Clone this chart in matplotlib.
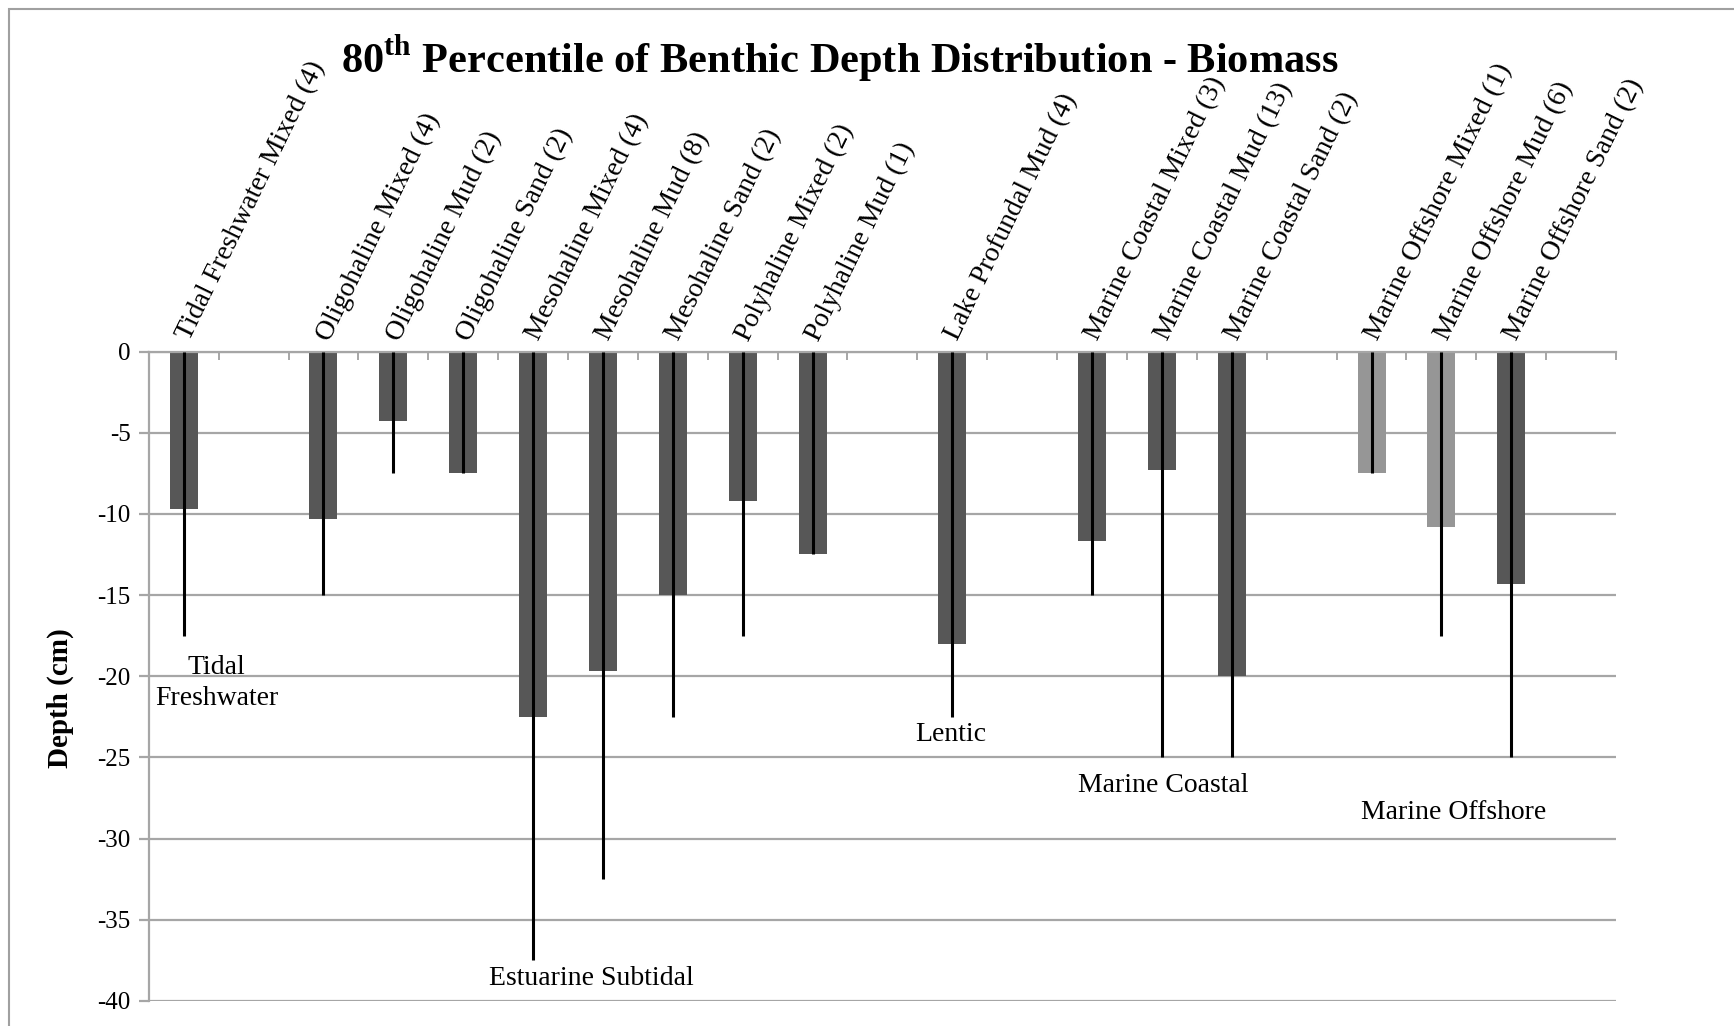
"""
80th percentile of benthic depth distribution (biomass) - bar chart with max-depth lines.
"""
import numpy as np
import matplotlib
matplotlib.use("Agg")
import matplotlib.pyplot as plt
from matplotlib.patches import Rectangle

# ── Data ──────────────────────────────────────────────────────────────────
nan = np.nan
CATEGORIES = [
    "Tidal Freshwater Mixed (4)", "",
    "Oligohaline Mixed (4)", "Oligohaline Mud (2)", "Oligohaline Sand (2)",
    "Mesohaline Mixed (4)", "Mesohaline Mud (8)", "Mesohaline Sand (2)",
    "Polyhaline Mixed (2)", "Polyhaline Mud (1)", "",
    "Lake Profundal Mud (4)", "",
    "Marine Coastal Mixed (3)", "Marine Coastal Mud (13)", "Marine Coastal Sand (2)", "",
    "Marine Offshore Mixed (1)", "Marine Offshore Mud (6)", "Marine Offshore Sand (2)", "",
]
DEPTH_80 = [-9.7, nan, -10.3, -4.3, -7.5, -22.5, -19.7, -15.0, -9.2, -12.5, nan,
            -18.0, nan, -11.7, -7.3, -20.0, nan, -7.5, -10.8, -14.3, nan]
DEPTH_MAX = [-17.5, nan, -15.0, -7.5, -7.5, -37.5, -32.5, -22.5, -17.5, -12.5, nan,
             -22.5, nan, -15.0, -25.0, -25.0, nan, -7.5, -17.5, -25.0, nan]
LIGHT = [False] * 17 + [True, True, False, False]

GROUPS = ["Tidal\nFreshwater", "Estuarine Subtidal", "Lentic",
          "Marine Coastal", "Marine Offshore"]

# ── Style ─────────────────────────────────────────────────────────────────
DARK_BAR = "#575757"
LIGHT_BAR = "#969696"
GRID = "#a6a6a6"
SERIF = ["Liberation Serif", "DejaVu Serif"]

plt.rcParams["font.family"] = SERIF
plt.rcParams["axes.unicode_minus"] = False
plt.rcParams["mathtext.fontset"] = "custom"
plt.rcParams["mathtext.rm"] = "Liberation Serif:bold"
plt.rcParams["mathtext.bf"] = "Liberation Serif:bold"

fig = plt.figure(figsize=(17.34, 10.26), dpi=100)
fig.patch.set_facecolor("white")
ax = fig.add_axes([0.0858, 0.0244, 0.932 - 0.0858, 0.6574 - 0.0244])

# outer chart-area border (runs off right/bottom edges)
fig.patches.append(Rectangle((0.005, -0.2), 1.5, 1.2 - 0.009, transform=fig.transFigure,
                             fill=False, edgecolor="#a0a0a0", linewidth=1.5))

x = np.arange(len(CATEGORIES))
colors = [LIGHT_BAR if l else DARK_BAR for l in LIGHT]
ax.bar(x, DEPTH_80, width=0.4, color=colors, zorder=2)
ax.vlines(x, 0, DEPTH_MAX, color="black", linewidth=2.2, zorder=3)

ax.set_xlim(-0.5, len(CATEGORIES) - 0.5)
ax.set_ylim(-40, 0)
ax.set_yticks(np.arange(-40, 1, 5))
ax.yaxis.grid(True, color=GRID, linewidth=1.6, zorder=0)
ax.set_axisbelow(True)

for side in ["right", "bottom"]:
    ax.spines[side].set_visible(False)
ax.spines["top"].set_color(GRID)
ax.spines["top"].set_linewidth(1.6)
ax.spines["left"].set_color(GRID)
ax.spines["left"].set_linewidth(1.6)

ax.tick_params(axis="y", colors=GRID, labelcolor="black", labelsize=18,
               length=7, width=1.6, pad=6)

# category labels on top, boundary ticks as minor
ax.xaxis.tick_top()
ax.set_xticks(x)
ax.set_xticklabels(CATEGORIES)
ax.set_xticks(np.arange(-0.5, len(CATEGORIES), 1), minor=True)
ax.tick_params(axis="x", which="major", length=0, pad=9, labelsize=20)
ax.tick_params(axis="x", which="minor", direction="in", length=6, width=1.4,
               colors=GRID)
for lbl in ax.get_xticklabels():
    lbl.set_rotation(64)
    lbl.set_rotation_mode("anchor")
    lbl.set_ha("left")
    lbl.set_va("center")

# group annotations
GROUP_POS = [(0.47, -20.4), (5.84, -38.6), (10.98, -23.6), (14.02, -26.7), (18.18, -28.4)]
for name, (gx, gy) in zip(GROUPS, GROUP_POS):
    ax.text(gx, gy, name, ha="center", va="center", fontsize=20,
            linespacing=1.3, zorder=4)

# ── Titles ────────────────────────────────────────────────────────────────
fig.text(0.484, 0.943,
         r"80$^{\mathrm{th}}$ Percentile of Benthic Depth Distribution - Biomass",
         ha="center", va="center", fontsize=30.5, fontweight="bold")
fig.text(0.035, 0.32, "Depth (cm)", rotation=90, ha="center", va="center",
         fontsize=21, fontweight="bold")

fig.savefig("out.png", dpi=100, facecolor="white")
plt.close(fig)
